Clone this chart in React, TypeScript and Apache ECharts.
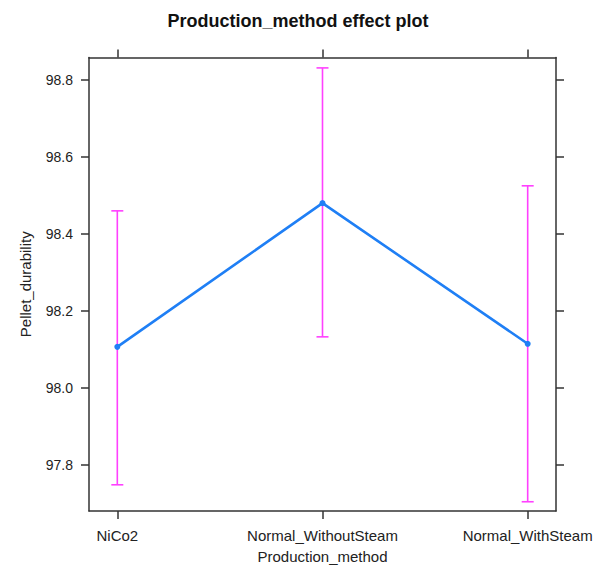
import React, { useEffect, useRef } from "react";
import * as echarts from "echarts";

const categories = ["NiCo2", "Normal_WithoutSteam", "Normal_WithSteam"];
const fitValues = [98.107, 98.48, 98.115];
const lowerValues = [97.749, 98.133, 97.705];
const upperValues = [98.46, 98.831, 98.525];
const yTicks = [97.8, 98.0, 98.2, 98.4, 98.6, 98.8];
const xTicks = [1, 2, 3];

const FONT = "'Liberation Sans', Arial, sans-serif";
const AXIS_COLOR = "#333333";
const TEXT_COLOR = "#222222";

export default function App() {
  const ref = useRef<HTMLDivElement>(null);
  useEffect(() => {
    if (!ref.current) return;
    const chart = echarts.init(ref.current, null, { renderer: "svg" });
    const lineData = fitValues.map((v, i) => [xTicks[i], v]);
    const errData = fitValues.map((_, i) => [xTicks[i], lowerValues[i], upperValues[i]]);
    const xBase = {
      type: "value",
      min: 0.862,
      max: 3.138,
      splitLine: { show: false },
      axisLine: { show: true, onZero: false, lineStyle: { color: AXIS_COLOR, width: 1.5 } },
      axisTick: { show: true, customValues: xTicks, length: 8, lineStyle: { color: AXIS_COLOR, width: 1.5 } },
    };
    const yBase = {
      type: "value",
      min: 97.681,
      max: 98.858,
      splitLine: { show: false },
      axisLine: { show: true, onZero: false, lineStyle: { color: AXIS_COLOR, width: 1.5 } },
      axisTick: { show: true, customValues: yTicks, length: 8, lineStyle: { color: AXIS_COLOR, width: 1.5 } },
    };
    chart.setOption({
      animation: false,
      backgroundColor: "#ffffff",
      textStyle: { fontFamily: FONT },
      title: {
        text: "Production_method effect plot",
        left: "center",
        top: 7,
        textStyle: { fontFamily: FONT, fontSize: 18, fontWeight: "bold", color: "#111111" },
      },
      grid: { left: 89, right: 40, top: 57.5, bottom: 57.3, containLabel: false },
      xAxis: [
        {
          ...xBase,
          position: "bottom",
          name: "Production_method",
          nameLocation: "middle",
          nameGap: 38,
          nameTextStyle: { fontFamily: FONT, fontSize: 15, color: TEXT_COLOR },
          axisLabel: {
            show: true,
            customValues: xTicks,
            margin: 17,
            fontFamily: FONT,
            fontSize: 15,
            color: TEXT_COLOR,
            formatter: (v: number) => categories[Math.round(v) - 1] ?? "",
          },
        },
        { ...xBase, position: "top", axisLabel: { show: false } },
      ],
      yAxis: [
        {
          ...yBase,
          position: "left",
          name: "Pellet_durability",
          nameLocation: "middle",
          nameGap: 56,
          nameTextStyle: { fontFamily: FONT, fontSize: 15, color: TEXT_COLOR },
          axisLabel: {
            show: true,
            customValues: yTicks,
            margin: 16,
            fontFamily: FONT,
            fontSize: 14,
            color: TEXT_COLOR,
            formatter: (v: number) => v.toFixed(1),
          },
        },
        { ...yBase, position: "right", axisLabel: { show: false } },
      ],
      series: [
        {
          type: "custom",
          xAxisIndex: 0,
          yAxisIndex: 0,
          z: 1,
          data: errData,
          renderItem: (params: any, api: any) => {
            const x = api.value(0);
            const lo = api.coord([x, api.value(1)]);
            const hi = api.coord([x, api.value(2)]);
            const hw = 6;
            const style = { stroke: "#FF40FF", lineWidth: 1.6 };
            return {
              type: "group",
              children: [
                { type: "line", shape: { x1: lo[0], y1: lo[1], x2: hi[0], y2: hi[1] }, style },
                { type: "line", shape: { x1: hi[0] - hw, y1: hi[1], x2: hi[0] + hw, y2: hi[1] }, style },
                { type: "line", shape: { x1: lo[0] - hw, y1: lo[1], x2: lo[0] + hw, y2: lo[1] }, style },
              ],
            };
          },
        },
        {
          type: "line",
          xAxisIndex: 0,
          yAxisIndex: 0,
          z: 3,
          data: lineData,
          symbol: "circle",
          symbolSize: 6,
          itemStyle: { color: "#1F7FF5" },
          lineStyle: { color: "#1F7FF5", width: 2.6 },
        },
      ],
    });
    return () => chart.dispose();
  }, []);
  return (
    <div
      ref={ref}
      style={{ position: "fixed", left: 0, top: 0, width: 596, height: 569, background: "#fff" }}
    />
  );
}
